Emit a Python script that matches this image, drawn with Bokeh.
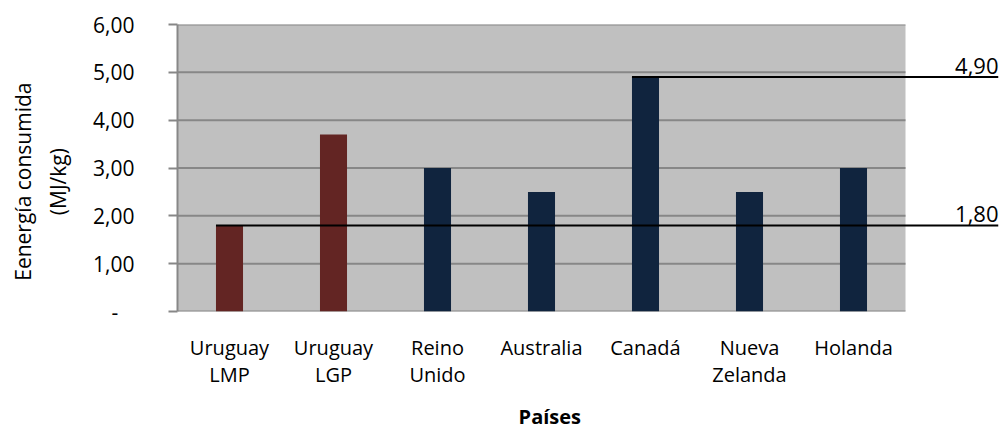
from bokeh.plotting import figure
from bokeh.models import Range1d, FixedTicker, LinearAxis
from bokeh.embed import file_html
from bokeh.resources import INLINE

# Energy consumed per kg, by country
categories = ["Uruguay\nLMP", "Uruguay\nLGP", "Reino\nUnido", "Australia",
              "Canadá", "Nueva\nZelanda", "Holanda"]
energia = [1.80, 3.70, 3.00, 2.50, 4.90, 2.50, 3.00]
grupo = ["uy", "uy", "otro", "otro", "otro", "otro", "otro"]
y_ticks = [0, 1, 2, 3, 4, 5, 6]
y_tick_labels = ["-\u00a0\u00a0\u00a0", "1,00", "2,00", "3,00", "4,00", "5,00", "6,00"]
x_title = "Países"
y_title = ["Eenergía consumida", "(MJ/kg)"]

FONT = "Open Sans"
colores = {"uy": "#632523", "otro": "#10243E"}
PAD = "\u00a0" * 5

n = len(categories)
centers = [i + 0.5 for i in range(n)]
bar_w = 0.26
# frame runs past the last category so the reference lines can reach the edge
x_end = n * 821 / 728

p = figure(width=1002, height=432, output_backend="svg", toolbar_location=None,
           x_range=Range1d(0, x_end), y_range=Range1d(0, 6),
           min_border_left=177, min_border_right=4,
           min_border_top=24, min_border_bottom=121)
p.outline_line_color = None
p.xgrid.grid_line_color = None
p.ygrid.grid_line_color = None
p.background_fill_color = "white"

# plot area
p.quad(left=[0], right=[n], bottom=[y_ticks[0]], top=[y_ticks[-1]],
       fill_color="#C0C0C0", line_color=None)
# horizontal gridlines limited to the category area
p.segment(x0=[0] * len(y_ticks), x1=[n] * len(y_ticks), y0=y_ticks, y1=y_ticks,
          line_color="#878787", line_width=2)

p.vbar(x=centers, top=energia, width=bar_w,
       fill_color=[colores[g] for g in grupo], line_color=None)

# max / min reference lines starting at their bar
i_max = energia.index(max(energia))
i_min = energia.index(min(energia))
ref_idx = [i_max, i_min]
ref_vals = [energia[i] for i in ref_idx]
p.segment(x0=[centers[i] - bar_w / 2 for i in ref_idx], x1=[x_end] * 2,
          y0=ref_vals, y1=ref_vals, line_color="black", line_width=2)
p.text(x=[x_end] * 2, y=ref_vals,
       text=[f"{v:.2f}".replace(".", ",") for v in ref_vals],
       text_align="right", text_baseline="bottom", y_offset=-3,
       text_font={"value": FONT}, text_font_size="22px", text_color="black")

# y axis
ya = p.yaxis[0]
ya.ticker = FixedTicker(ticks=y_ticks)
ya.major_label_overrides = {t: l for t, l in zip(y_ticks, y_tick_labels)}
ya.minor_tick_line_color = None
ya.major_tick_in = 0
ya.major_tick_out = 9
ya.major_tick_line_color = "#878787"
ya.major_tick_line_width = 2
ya.axis_line_color = "#878787"
ya.axis_line_width = 2
ya.major_label_standoff = 34
ya.major_label_text_font = FONT
ya.major_label_text_font_size = "21px"
ya.major_label_text_color = "black"
ya.axis_label = "\n".join(t + PAD for t in y_title)
ya.axis_label_text_font = FONT
ya.axis_label_text_font_size = "21px"
ya.axis_label_text_font_style = "normal"
ya.axis_label_text_color = "black"
ya.axis_label_text_line_height = 1.25
ya.axis_label_standoff = 18

# x axis: category names
xa = p.xaxis[0]
xa.ticker = FixedTicker(ticks=centers)
xa.major_label_overrides = {c: l for c, l in zip(centers, categories)}
xa.axis_line_color = None
xa.major_tick_line_color = None
xa.minor_tick_line_color = None
xa.major_tick_in = 0
xa.major_tick_out = 0
xa.major_label_standoff = 22
xa.major_label_text_font = FONT
xa.major_label_text_font_size = "20px"
xa.major_label_text_color = "black"
xa.major_label_text_line_height = 1.0

# x axis title, centred under the categories
xt = LinearAxis(ticker=FixedTicker(ticks=[n / 2 + 0.08]),
                major_label_overrides={n / 2 + 0.08: x_title})
xt.axis_line_color = None
xt.major_tick_line_color = None
xt.minor_tick_line_color = None
xt.major_tick_in = 0
xt.major_tick_out = 0
xt.major_label_standoff = 12
xt.major_label_text_font = FONT
xt.major_label_text_font_size = "20px"
xt.major_label_text_font_style = "bold"
xt.major_label_text_color = "black"
p.add_layout(xt, "below")

open("out.html", "w").write(file_html(p, INLINE))
